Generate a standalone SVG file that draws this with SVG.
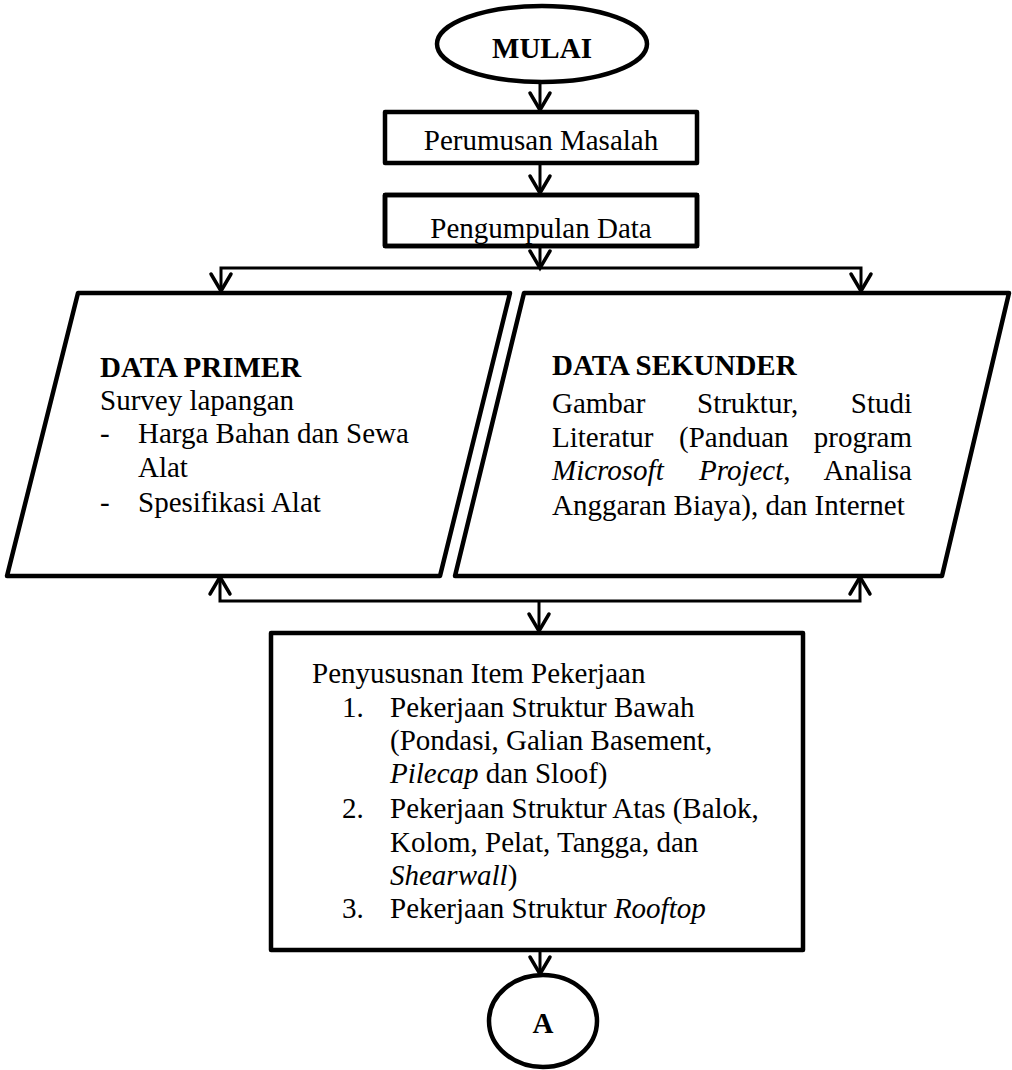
<svg xmlns="http://www.w3.org/2000/svg" width="1012" height="1070" viewBox="0 0 1012 1070">
<style>
  .shape { fill: #fff; stroke: #000; stroke-width: 4.5; stroke-linejoin: round; }
  .conn { fill: none; stroke: #000; stroke-width: 3; }
  .head { fill: none; stroke: #000; stroke-width: 3.5; stroke-linecap: round; stroke-linejoin: miter; }
  text { font-family: "Liberation Serif", "Times New Roman", serif; font-size: 29px; fill: #000; }
  .b { font-weight: bold; }
  .i { font-style: italic; }
  .c { text-anchor: middle; }
  .e { text-anchor: end; }
</style>
<defs>
  <clipPath id="clipPD"><rect x="385" y="195" width="312" height="49"/></clipPath>
</defs>
<rect width="1012" height="1070" fill="#fff"/>

<g id="connectors">
  <line class="conn" x1="540" y1="82" x2="540" y2="110"/>
  <polyline class="head" points="530,93 540,110 550,93"/>
  <line class="conn" x1="540" y1="163" x2="540" y2="193"/>
  <polyline class="head" points="530,176 540,193 550,176"/>
  <line class="conn" x1="540" y1="246" x2="540" y2="268"/>
  <polyline class="head" points="530,251 540,268 550,251"/>
  <polyline class="conn" points="221,291 221,268 861,268 861,291"/>
  <polyline class="head" points="211,274 221,291 231,274"/>
  <polyline class="head" points="851,274 861,291 871,274"/>
  <polyline class="conn" points="220,577 220,601 860,601 860,577"/>
  <polyline class="head" points="210,594 220,577 230,594"/>
  <polyline class="head" points="850,594 860,577 870,594"/>
  <line class="conn" x1="539" y1="601" x2="539" y2="631"/>
  <polyline class="head" points="529,614 539,631 549,614"/>
  <line class="conn" x1="540" y1="950" x2="540" y2="974"/>
  <polyline class="head" points="530,957 540,974 550,957"/>
</g>

<g id="mulai">
  <ellipse class="shape" cx="542" cy="44" rx="105" ry="38"/>
  <text class="b c" x="542" y="58">MULAI</text>
</g>

<g id="perumusan">
  <rect class="shape" x="385" y="112" width="312" height="51"/>
  <text class="c" x="541" y="150">Perumusan Masalah</text>
</g>

<g id="pengumpulan">
  <rect class="shape" x="385" y="195" width="312" height="51"/>
  <text class="c" x="541" y="238" clip-path="url(#clipPD)">Pengumpulan Data</text>
  <rect x="385" y="195" width="312" height="51" fill="none" stroke="#000" stroke-width="4.5" stroke-linejoin="round"/>
</g>

<g id="data-primer">
  <polygon class="shape" points="78,293 510,293 440,576 7,576"/>
  <text class="b" x="100" y="377">DATA PRIMER</text>
  <text x="100" y="410">Survey lapangan</text>
  <text x="100" y="443">-</text>
  <text x="138" y="443">Harga Bahan dan Sewa</text>
  <text x="138" y="477">Alat</text>
  <text x="100" y="512">-</text>
  <text x="138" y="512">Spesifikasi Alat</text>
</g>

<g id="data-sekunder">
  <polygon class="shape" points="524,293 1009,293 942,576 455,576"/>
  <text class="b" x="552" y="375">DATA SEKUNDER</text>
  <text x="552" y="413">Gambar</text>
  <text x="697" y="413">Struktur,</text>
  <text class="e" x="912" y="413">Studi</text>
  <text x="552" y="447">Literatur</text>
  <text x="679" y="447">(Panduan</text>
  <text class="e" x="912" y="447">program</text>
  <text class="i" x="552" y="480">Microsoft</text>
  <text x="699" y="480"><tspan class="i">Project</tspan>,</text>
  <text class="e" x="912" y="480">Analisa</text>
  <text x="552" y="515">Anggaran Biaya), dan Internet</text>
</g>

<g id="penyusunan">
  <rect class="shape" x="271" y="633" width="532" height="317"/>
  <text x="312" y="683">Penyususnan Item Pekerjaan</text>
  <text x="342" y="717">1.</text>
  <text x="390" y="717">Pekerjaan Struktur Bawah</text>
  <text x="390" y="750">(Pondasi, Galian Basement,</text>
  <text x="390" y="783"><tspan class="i">Pilecap</tspan> dan Sloof)</text>
  <text x="342" y="818">2.</text>
  <text x="390" y="818">Pekerjaan Struktur Atas (Balok,</text>
  <text x="390" y="852">Kolom, Pelat, Tangga, dan</text>
  <text x="390" y="885"><tspan class="i">Shearwall</tspan>)</text>
  <text x="342" y="918">3.</text>
  <text x="390" y="918">Pekerjaan Struktur <tspan class="i">Rooftop</tspan></text>
</g>

<g id="connector-a">
  <ellipse class="shape" cx="543" cy="1021" rx="54" ry="46"/>
  <text class="b c" x="543" y="1033">A</text>
</g>
</svg>
